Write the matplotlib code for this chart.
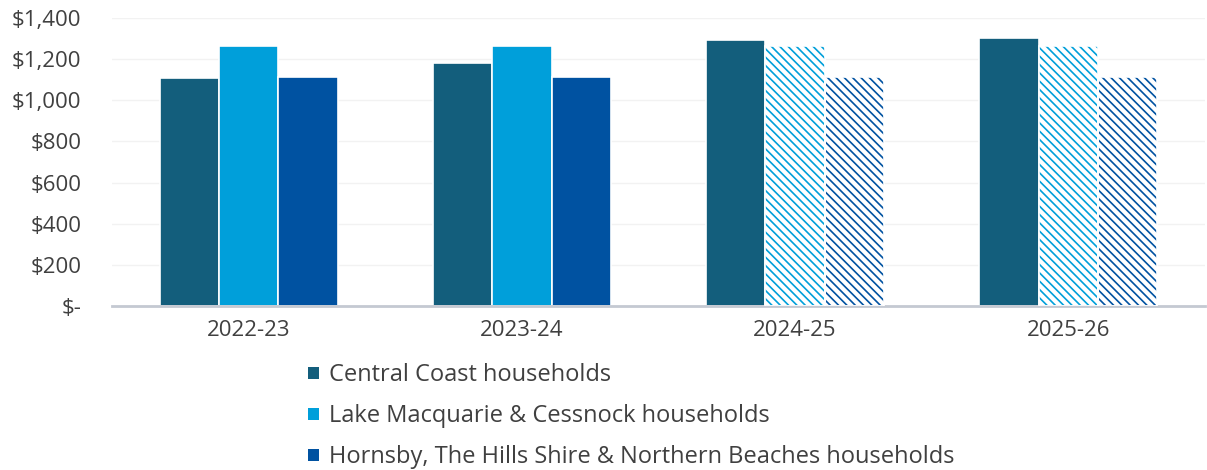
import numpy as np
import matplotlib.pyplot as plt
from matplotlib.patches import Patch
from matplotlib.ticker import FuncFormatter

# data
years = ["2022-23", "2023-24", "2024-25", "2025-26"]
central_coast = [1108, 1181, 1293, 1303]
lake_macquarie = [1264, 1264, 1264, 1264]
hornsby = [1113, 1113, 1113, 1113]
projected = [False, False, True, True]

series_names = ["Central Coast households",
                "Lake Macquarie & Cessnock households",
                "Hornsby, The Hills Shire & Northern Beaches households"]
series_colors = ["#135E7C", "#009FDA", "#0052A1"]

plt.rcParams['font.family'] = ['Open Sans', 'DejaVu Sans']
plt.rcParams['hatch.linewidth'] = 1.2

fig = plt.figure(figsize=(12.07, 4.70), dpi=100)
ax = fig.add_axes([112 / 1207, 1 - 306 / 470, (1205 - 112) / 1207, 288 / 470])

x = np.arange(len(years))
width = 0.217
offsets = [-width, 0, width]
all_series = [central_coast, lake_macquarie, hornsby]

for i, (vals, col) in enumerate(zip(all_series, series_colors)):
    for xi, v, proj in zip(x, vals, projected):
        xpos = xi + offsets[i]
        if proj and i > 0:
            # projected years: striped fill
            ax.bar(xpos, v, width, facecolor="white", edgecolor=col,
                   hatch="\\" * 4, linewidth=0, zorder=2)
            ax.bar(xpos, v, width, facecolor="none", edgecolor="white",
                   linewidth=1.2, zorder=3)
        else:
            ax.bar(xpos, v, width, color=col, edgecolor="white",
                   linewidth=1.2, zorder=2)

ax.set_xlim(-0.5, 3.5)
ax.set_ylim(0, 1400)
ax.set_yticks(range(0, 1401, 200))
ax.yaxis.set_major_formatter(FuncFormatter(lambda v, p: "$-" if v == 0 else f"${v:,.0f}"))
ax.set_xticks(x)
ax.set_xticklabels(years)
ax.grid(axis="y", color="#F2F2F2", linewidth=1, zorder=0)
ax.set_axisbelow(True)

for s in ["top", "right", "left"]:
    ax.spines[s].set_visible(False)
ax.spines["bottom"].set_color("#C4C9D2")
ax.spines["bottom"].set_linewidth(2)
ax.tick_params(axis="both", length=0, labelsize=16, colors="#404040")
ax.tick_params(axis="x", pad=10)
ax.tick_params(axis="y", pad=22)

handles = [Patch(facecolor=c, edgecolor="none") for c in series_colors]
fig.legend(handles, series_names, loc="upper left", bbox_to_anchor=(299 / 1207, 1 - 354 / 470),
           frameon=False, fontsize=17, labelcolor="#404040", handlelength=0.45,
           handleheight=0.45, handletextpad=0.4, labelspacing=0.72, borderaxespad=0)

fig.savefig("out.png", dpi=100)
